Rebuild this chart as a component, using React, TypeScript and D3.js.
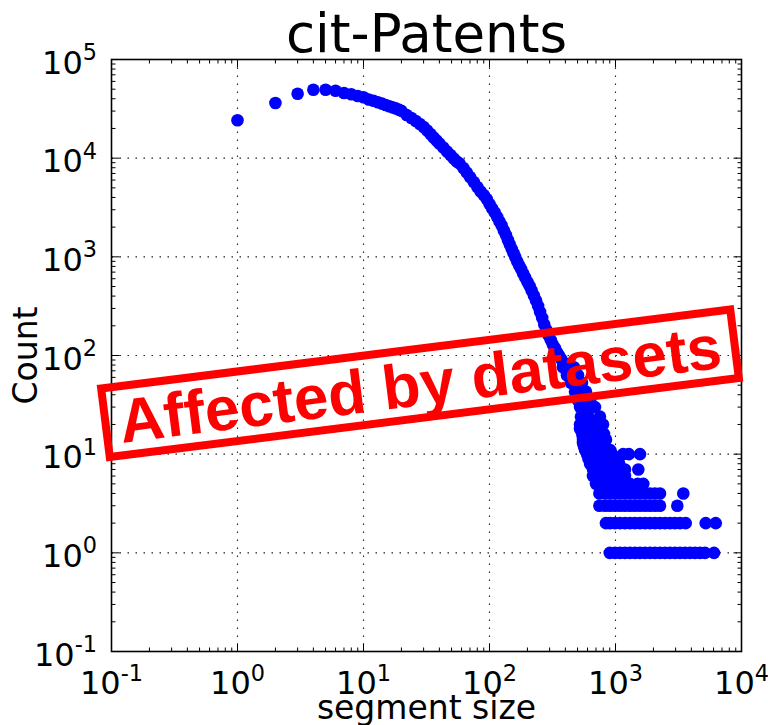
import React from 'react';
import * as d3 from 'd3';

// ---- data ----
const headSizes = [1, 2, 3, 4, 5, 6, 7, 8, 9, 10];
const headCounts = [24200, 36200, 45000, 49400, 49400, 48300, 45700, 44400, 42700, 41400];

const bandSizes = [11, 12, 13, 14, 15, 16, 17, 18, 19, 20, 22, 24, 26, 28, 30, 32, 34, 36, 38, 40, 43, 46, 49, 52, 55, 58, 62, 66, 70, 75, 80, 85, 90, 95, 100, 105, 110, 115, 120, 125, 130, 135, 140, 145, 150, 155, 160, 166, 172, 178, 185, 192, 200, 208, 216, 225, 234, 243, 252, 262, 272, 283, 294, 306, 318, 330, 343, 356, 370, 385, 400, 415, 430, 446, 462, 480, 500, 520, 540, 560, 585, 610, 640, 670, 700, 730, 760];
const bandCounts = [39300, 38140, 36920, 35740, 34580, 33550, 32700, 31950, 31060, 30140, 27380, 25540, 23810, 22200, 20700, 19080, 17580, 16200, 15110, 14090, 12830, 11680, 10770, 9920, 9250, 8800, 7950, 7160, 6450, 5735, 5103, 4595, 4233, 3857, 3432, 3090, 2814, 2534, 2281, 2077, 1849, 1665, 1481, 1334, 1200, 1094, 996, 897, 817, 753, 678, 617, 556, 506, 456, 406, 361, 318, 276, 240, 206, 181, 160, 144, 129, 119, 108, 100, 92, 85, 78, 71, 66, 60, 55, 50, 45, 41, 37, 33, 29, 24, 21, 18, 16, 13, 11];

const spreadSizes = [383, 412, 443, 477, 504, 523, 532, 542, 552, 562, 468, 504, 542, 583, 628, 688, 753, 796, 810, 841];
const spreadCounts = [76, 63, 53, 43, 35, 30, 24, 20, 16, 14, 76, 63, 53, 43, 35, 30, 24, 20, 16, 14];

const tailCounts = [1, 2, 3, 4, 5, 6, 7, 8, 9, 10, 11, 12, 13, 14, 15, 16, 18, 20];
const tailSizes = [
  [900, 991, 1086, 1189, 1303, 1428, 1564, 1714, 1878, 2057, 2254, 2470, 2707, 2966, 3250, 3561, 3902, 4275, 4684, 5132, 6049],
  [840, 904, 991, 1086, 1189, 1303, 1428, 1564, 1714, 1878, 2057, 2254, 2470, 2707, 2966, 3250, 3606, 5200, 6242],
  [745, 826, 904, 991, 1086, 1189, 1303, 1428, 1564, 1714, 1878, 2057, 2254, 3094],
  [745, 826, 904, 991, 1086, 1189, 1303, 1428, 1564, 1714, 1878, 2057, 2254, 3452],
  [700, 753, 826, 904, 991, 1086, 1189, 1303, 1500, 1662],
  [663, 713, 767, 826, 888, 955, 1028, 1106, 1189],
  [663, 713, 767, 826, 888, 955, 1028, 1106, 1189, 1517],
  [628, 680, 735, 790, 850, 915, 990, 1070],
  [610, 660, 715, 770, 830, 895, 965, 1040],
  [595, 640, 690, 745, 800, 865, 940, 1150, 1276, 1564],
  [573, 620, 670, 725, 780, 840, 910],
  [562, 605, 655, 710, 765, 826],
  [552, 605, 663, 726, 796],
  [552, 605, 663, 726, 796],
  [550, 600, 655, 715, 780],
  [545, 595, 650, 710, 775],
  [523, 573, 628, 687, 753],
  [523, 573, 628, 687, 740],
];

const xTickExps = [-1, 0, 1, 2, 3, 4];
const yTickExps = [-1, 0, 1, 2, 3, 4, 5];

const titleText = 'cit-Patents';
const xLabelText = 'segment size';
const yLabelText = 'Count';
const stampText = 'Affected by datasets';

// ---- layout ----
const W = 768;
const H = 725;
const M = { left: 111.5, right: 741.5, top: 59.5, bottom: 651.5 };
const FONT = '"DejaVu Sans", "Bitstream Vera Sans", sans-serif';
const TICK_FS = 32;

function Pow({ x, y, exp, anchor }: { x: number; y: number; exp: number; anchor: string }) {
  return (
    <text x={x} y={y} textAnchor={anchor} fontFamily={FONT} fontSize={TICK_FS} fill="#000">
      10
      <tspan dy={-13.5} fontSize={TICK_FS * 0.7}>
        {exp < 0 ? '-' + Math.abs(exp) : String(exp)}
      </tspan>
    </text>
  );
}

export default function App() {
  const x = d3.scaleLog().domain([0.1, 1e4]).range([M.left, M.right]);
  const y = d3.scaleLog().domain([0.1, 1e5]).range([M.bottom, M.top]);

  const points: [number, number][] = [];
  headSizes.forEach((s, i) => points.push([s, headCounts[i]]));
  bandSizes.forEach((s, i) => points.push([s, bandCounts[i]]));
  spreadSizes.forEach((s, i) => points.push([s, spreadCounts[i]]));
  tailCounts.forEach((c, i) => tailSizes[i].forEach((s) => points.push([s, c])));

  const xMajor = xTickExps.map((e) => Math.pow(10, e));
  const yMajor = yTickExps.map((e) => Math.pow(10, e));
  const xMinor: number[] = [];
  xTickExps.slice(0, -1).forEach((e) => {
    for (let k = 2; k <= 9; k++) xMinor.push(k * Math.pow(10, e));
  });
  const yMinor: number[] = [];
  yTickExps.slice(0, -1).forEach((e) => {
    for (let k = 2; k <= 9; k++) yMinor.push(k * Math.pow(10, e));
  });

  const MAJ = 8;
  const MIN = 4;

  // stamp geometry
  const cx = 420;
  const cy = 383.3;
  const bw = 634;
  const bh = 69;
  const ang = -7.16;

  return (
    <svg
      width={W}
      height={H}
      viewBox={`0 0 ${W} ${H}`}
      style={{ position: 'absolute', left: 0, top: 0, background: '#fff' }}
    >
      <rect x={0} y={0} width={W} height={H} fill="#fff" />
      {/* grid */}
      <g stroke="#222" strokeWidth={1.1} strokeDasharray="1.5 6.5">
        {xMajor.slice(1, -1).map((v) => (
          <line key={'gx' + v} x1={x(v)} x2={x(v)} y1={M.top} y2={M.bottom} />
        ))}
        {yMajor.slice(1, -1).map((v) => (
          <line key={'gy' + v} x1={M.left} x2={M.right} y1={y(v)} y2={y(v)} />
        ))}
      </g>
      {/* points */}
      <g fill="#0000ff">
        {points.map(([s, c], i) => (
          <circle key={i} cx={x(s)} cy={y(c)} r={6.3} />
        ))}
      </g>
      {/* ticks */}
      <g stroke="#000" strokeWidth={1}>
        {xMajor.map((v) => (
          <g key={'xt' + v}>
            <line x1={x(v)} x2={x(v)} y1={M.bottom} y2={M.bottom - MAJ} />
            <line x1={x(v)} x2={x(v)} y1={M.top} y2={M.top + MAJ} />
          </g>
        ))}
        {xMinor.map((v) => (
          <g key={'xm' + v}>
            <line x1={x(v)} x2={x(v)} y1={M.bottom} y2={M.bottom - MIN} />
            <line x1={x(v)} x2={x(v)} y1={M.top} y2={M.top + MIN} />
          </g>
        ))}
        {yMajor.map((v) => (
          <g key={'yt' + v}>
            <line x1={M.left} x2={M.left + MAJ} y1={y(v)} y2={y(v)} />
            <line x1={M.right} x2={M.right - MAJ} y1={y(v)} y2={y(v)} />
          </g>
        ))}
        {yMinor.map((v) => (
          <g key={'ym' + v}>
            <line x1={M.left} x2={M.left + MIN} y1={y(v)} y2={y(v)} />
            <line x1={M.right} x2={M.right - MIN} y1={y(v)} y2={y(v)} />
          </g>
        ))}
      </g>
      {/* frame */}
      <rect
        x={M.left}
        y={M.top}
        width={M.right - M.left}
        height={M.bottom - M.top}
        fill="none"
        stroke="#000"
        strokeWidth={1.6}
      />
      {/* tick labels */}
      {xTickExps.map((e) => (
        <Pow key={'xl' + e} x={x(Math.pow(10, e))} y={694} exp={e} anchor="middle" />
      ))}
      {yTickExps.map((e) => (
        <Pow key={'yl' + e} x={97} y={y(Math.pow(10, e)) + 14} exp={e} anchor="end" />
      ))}
      {/* title and axis labels */}
      <text x={(M.left + M.right) / 2} y={52} textAnchor="middle" fontFamily={FONT} fontSize={53} fill="#000">
        {titleText}
      </text>
      <text x={(M.left + M.right) / 2} y={719} textAnchor="middle" fontFamily={FONT} fontSize={33} fill="#000">
        {xLabelText}
      </text>
      <text
        transform={`translate(37, ${(M.top + M.bottom) / 2}) rotate(-90)`}
        textAnchor="middle"
        fontFamily={FONT}
        fontSize={33}
        fill="#000"
      >
        {yLabelText}
      </text>
      {/* stamp */}
      <g transform={`translate(${cx}, ${cy}) rotate(${ang})`}>
        <rect x={-bw / 2} y={-bh / 2} width={bw} height={bh} fill="none" stroke="#ff0000" strokeWidth={8} />
        <text
          x={0}
          y={22}
          textAnchor="middle"
          fontFamily='"Liberation Sans", Arial, Helvetica, sans-serif'
          fontWeight="bold"
          fontSize={62}
          fill="#ff0000"
        >
          {stampText}
        </text>
      </g>
    </svg>
  );
}
